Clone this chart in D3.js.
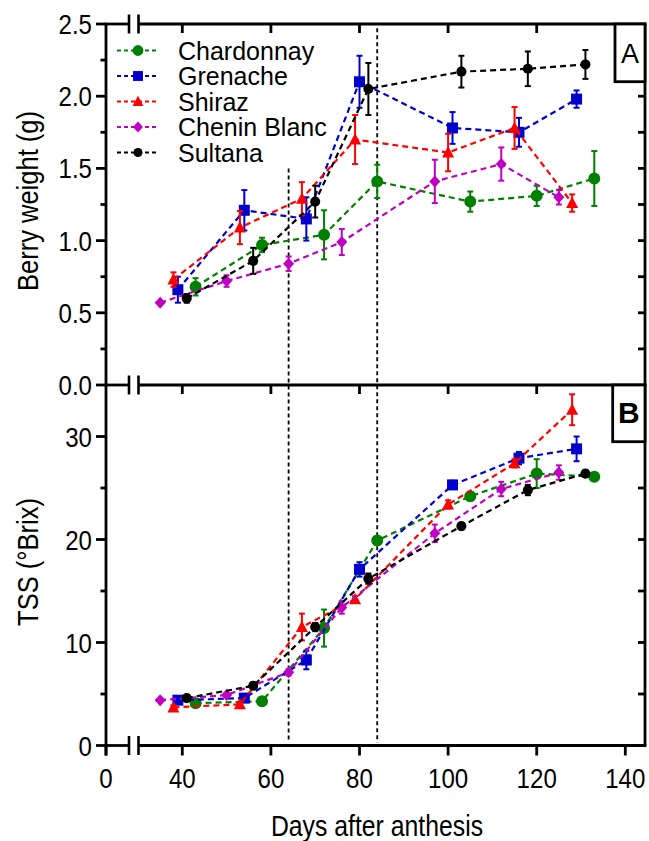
<!DOCTYPE html>
<html><head><meta charset="utf-8">
<script src="https://cdn.jsdelivr.net/npm/d3@7"></script>
<style>
html,body{margin:0;padding:0;background:#fff;}
text{font-family:"Liberation Sans",Arial,sans-serif;}
</style></head>
<body><svg id="c" width="649" height="841"></svg>
<script>
// ---------- data ----------
const seriesNames = ["Chardonnay","Grenache","Shiraz","Chenin Blanc","Sultana"];
const seriesColors = ["#008000","#0000cc","#ff0000","#c000c0","#000000"];
const seriesShapes = ["circle","square","triangle","diamond","smallcircle"];

const chardDays  = [43, 58, 72, 84, 105, 120, 133];
const grenDays   = [39, 54, 68, 80, 101, 116, 129];
const shirazDays = [38, 53, 67, 79, 100, 115, 128];
const cheninDays = [35, 50, 64, 76, 97, 112, 125];
const sultDays   = [41, 56, 70, 82, 103, 118, 131];

// Panel A: berry weight (g)
const chardWeight  = [0.68, 0.97, 1.04, 1.41, 1.27, 1.31, 1.43];
const chardWeightErr = [0.06, 0.05, 0.17, 0.115, 0.07, 0.07, 0.19];
const grenWeight   = [0.66, 1.21, 1.15, 2.10, 1.78, 1.75, 1.98];
const grenWeightErr = [0.09, 0.14, 0.15, 0.18, 0.11, 0.10, 0.06];
const shirazWeight = [0.73, 1.09, 1.29, 1.70, 1.61, 1.78, 1.26];
const shirazWeightErr = [0.05, 0.115, 0.115, 0.17, 0.13, 0.145, 0.06];
const cheninWeight = [0.57, 0.72, 0.84, 0.99, 1.41, 1.53, 1.30];
const cheninWeightErr = [0.0, 0.04, 0.05, 0.09, 0.15, 0.115, 0.05];
const sultWeight   = [0.60, 0.86, 1.27, 2.05, 2.17, 2.19, 2.22];
const sultWeightErr = [0.03, 0.09, 0.11, 0.18, 0.11, 0.12, 0.10];

// Panel B: TSS (°Brix)
const chardTSS  = [4.1, 4.3, 11.4, 19.9, 24.2, 26.4, 26.1];
const chardTSSErr = [0.2, 0.2, 1.8, 0.4, 0.4, 1.4, 0.3];
const grenTSS   = [4.4, 4.6, 8.3, 17.1, 25.3, 27.9, 28.8];
const grenTSSErr = [0.2, 0.3, 0.9, 0.7, 0.4, 0.6, 1.2];
const shirazTSS = [3.7, 4.0, 11.5, 14.2, 23.4, 27.4, 32.6];
const shirazTSSErr = [0.2, 0.2, 1.3, 0.3, 0.4, 0.4, 1.5];
const cheninTSS = [4.4, 4.9, 7.1, 13.4, 20.6, 24.9, 26.5];
const cheninTSSErr = [0.1, 0.2, 0.3, 0.6, 0.85, 0.7, 0.7];
const sultTSS   = [4.6, 5.8, 11.5, 16.2, 21.3, 24.8, 26.4];
const sultTSSErr = [0.2, 0.3, 0.4, 0.5, 0.3, 0.5, 0.3];

const xTicks = [0, 40, 60, 80, 100, 120, 140];
const yTicksA = [0, 0.5, 1.0, 1.5, 2.0, 2.5];
const yMinorA = [0.25, 0.75, 1.25, 1.75, 2.25];
const yTicksB = [0, 10, 20, 30];
const yMinorB = [5, 15, 25];
const phaseDays = [64, 84];
const phaseTopA = [1.5, 2.47];

// ---------- build ----------
const days = [chardDays, grenDays, shirazDays, cheninDays, sultDays];
const weights = [chardWeight, grenWeight, shirazWeight, cheninWeight, sultWeight];
const weightErrs = [chardWeightErr, grenWeightErr, shirazWeightErr, cheninWeightErr, sultWeightErr];
const tss = [chardTSS, grenTSS, shirazTSS, cheninTSS, sultTSS];
const tssErrs = [chardTSSErr, grenTSSErr, shirazTSSErr, cheninTSSErr, sultTSSErr];

const svg = d3.select("#c");
const xR = d3.scaleLinear().domain([40, 140]).range([182.3, 625.3]);
const xL = d3.scaleLinear().domain([0, 5]).range([106, 129]);
const xPos = d => d < 20 ? xL(d) : xR(d);
const yA = d3.scaleLinear().domain([0, 2.5]).range([385, 24]);
const yB = d3.scaleLinear().domain([0, 35]).range([745.5, 385]);
const left = 106, right = 645;
const frameW = 2.8;
const narrow = 0.86;

function markerPath(shape) {
  switch (shape) {
    case "circle": return d3.symbol(d3.symbolCircle, 113)();
    case "smallcircle": return d3.symbol(d3.symbolCircle, 80)();
    case "square": return "M-5.5,-5.5H5.5V5.5H-5.5Z";
    case "triangle": return "M0,-6.5L6,5L-6,5Z";
    case "diamond": return "M0,-6L5.5,0L0,6L-5.5,0Z";
  }
}

const g = svg.append("g");

// vertical phase lines
phaseDays.forEach((d, i) => {
  g.append("line").attr("x1", xR(d)).attr("x2", xR(d))
    .attr("y1", yA(phaseTopA[i])).attr("y2", yB(0) - 3)
    .attr("stroke", "#000").attr("stroke-width", 1.8).attr("stroke-dasharray", "4,3");
});

function drawPanel(y, vals, errs) {
  seriesNames.forEach((name, s) => {
    const col = seriesColors[s];
    const pts = days[s].map((d, i) => ({x: xR(d), y: y(vals[s][i]), e: errs[s][i], v: vals[s][i]}));
    const sg = g.append("g");
    sg.append("path").attr("d", d3.line().x(p => p.x).y(p => p.y)(pts))
      .attr("fill", "none").attr("stroke", col).attr("stroke-width", 2.2).attr("stroke-dasharray", "6,4");
    pts.forEach(p => {
      if (p.e > 0) {
        const y1 = y(p.v + p.e), y2 = y(p.v - p.e);
        sg.append("line").attr("x1", p.x).attr("x2", p.x).attr("y1", y1).attr("y2", y2)
          .attr("stroke", col).attr("stroke-width", 2);
        [y1, y2].forEach(yy => sg.append("line").attr("x1", p.x - 3).attr("x2", p.x + 3)
          .attr("y1", yy).attr("y2", yy).attr("stroke", col).attr("stroke-width", 2));
      }
    });
    sg.selectAll("path.m").data(pts).enter().append("path").attr("class", "m")
      .attr("d", markerPath(seriesShapes[s]))
      .attr("transform", p => `translate(${p.x},${p.y})`)
      .attr("fill", col);
  });
}
drawPanel(yA, weights, weightErrs);
drawPanel(yB, tss, tssErrs);

// ---------- frame & axes ----------
const ax = svg.append("g").attr("stroke", "#000").attr("stroke-width", frameW).attr("fill", "none");
function hLineWithBreak(yy) {
  ax.append("line").attr("x1", left - 1.4).attr("x2", 129).attr("y1", yy).attr("y2", yy);
  ax.append("line").attr("x1", 138.5).attr("x2", right + 1.4).attr("y1", yy).attr("y2", yy);
  [129, 138.5].forEach(bx => ax.append("line").attr("x1", bx).attr("x2", bx).attr("y1", yy - 9.5).attr("y2", yy + 9.5).attr("stroke-width", 2.6));
}
hLineWithBreak(yA(2.5));
hLineWithBreak(yA(0));
hLineWithBreak(yB(0));
ax.append("line").attr("x1", left).attr("x2", left).attr("y1", yA(2.5)).attr("y2", yB(0) + 10);
ax.append("line").attr("x1", right).attr("x2", right).attr("y1", yA(2.5)).attr("y2", yB(0));

// left y ticks
yTicksA.forEach(v => ax.append("line").attr("x1", left - 10).attr("x2", left).attr("y1", yA(v)).attr("y2", yA(v)));
yMinorA.forEach(v => ax.append("line").attr("x1", left - 5.5).attr("x2", left).attr("y1", yA(v)).attr("y2", yA(v)));
yTicksB.forEach(v => ax.append("line").attr("x1", left - 10).attr("x2", left).attr("y1", yB(v)).attr("y2", yB(v)));
yMinorB.forEach(v => ax.append("line").attr("x1", left - 5.5).attr("x2", left).attr("y1", yB(v)).attr("y2", yB(v)));
// right inward ticks
yTicksA.concat(yMinorA).filter(v => v > 0 && v < 2.5).forEach(v =>
  ax.append("line").attr("x1", right - 7).attr("x2", right).attr("y1", yA(v)).attr("y2", yA(v)));
yTicksB.concat(yMinorB).filter(v => v > 0 && v < 35).forEach(v =>
  ax.append("line").attr("x1", right - 7).attr("x2", right).attr("y1", yB(v)).attr("y2", yB(v)));
// x ticks: bottom outward, top of each panel inward
xTicks.forEach(d => ax.append("line").attr("x1", xPos(d)).attr("x2", xPos(d)).attr("y1", yB(0)).attr("y2", yB(0) + 10));
xTicks.filter(d => d >= 40).forEach(d => {
  [yA(2.5), yA(0)].forEach(yy => ax.append("line").attr("x1", xR(d)).attr("x2", xR(d)).attr("y1", yy).attr("y2", yy + 9));
});

// panel label boxes
function panelBox(x0, y0, y1, label, bold) {
  svg.append("rect").attr("x", x0).attr("y", y0).attr("width", right - x0).attr("height", y1 - y0)
    .attr("fill", "#fff").attr("stroke", "#000").attr("stroke-width", frameW);
  svg.append("text").attr("x", (x0 + right) / 2).attr("y", y0 + (y1 - y0) / 2 + 10)
    .attr("text-anchor", "middle")
    .style("font-size", bold ? "30px" : "27px").style("font-weight", bold ? "bold" : "normal").text(label);
}
panelBox(615, yA(2.5), 81.7, "A", false);
panelBox(612.7, yB(35), 441.7, "B", true);

// narrow text helper
function ntext(parent, x, y, str, anchor, size, rot, sx) {
  return parent.append("text")
    .attr("transform", `translate(${x},${y})` + (rot ? ` rotate(${rot})` : "") + ` scale(${sx || narrow},1)`)
    .attr("text-anchor", anchor).style("font-size", size + "px").text(str);
}

// tick labels
const fmtA = d3.format(".1f");
const tl = svg.append("g").attr("fill", "#000");
yTicksA.forEach(v => ntext(tl, 92, yA(v) + 10, fmtA(v), "end", 28));
yTicksB.forEach(v => ntext(tl, 92, yB(v) + 10, String(v), "end", 28));
xTicks.forEach(d => ntext(tl, xPos(d), 788, String(d), "middle", 28));

// axis titles
ntext(svg, 377, 836, "Days after anthesis", "middle", 29, 0, 0.855);
ntext(svg, 38, 201, "Berry weight (g)", "middle", 29, -90, 0.88);
ntext(svg, 38, 562, "TSS (°Brix)", "middle", 29, -90, 0.88);

// legend
const lg = svg.append("g");
const rowY = [50.5, 76, 101.5, 127, 152.5];
seriesNames.forEach((name, s) => {
  const yy = rowY[s];
  lg.append("line").attr("x1", 117).attr("x2", 156).attr("y1", yy).attr("y2", yy)
    .attr("stroke", seriesColors[s]).attr("stroke-width", 2.2).attr("stroke-dasharray", "4,3");
  lg.append("path").attr("d", markerPath(seriesShapes[s])).attr("transform", `translate(138,${yy}) scale(0.9)`).attr("fill", seriesColors[s]);
  lg.append("text").attr("x", 178).attr("y", yy + 9)
    .style("font-size", "25px").text(name);
});
</script></body></html>
